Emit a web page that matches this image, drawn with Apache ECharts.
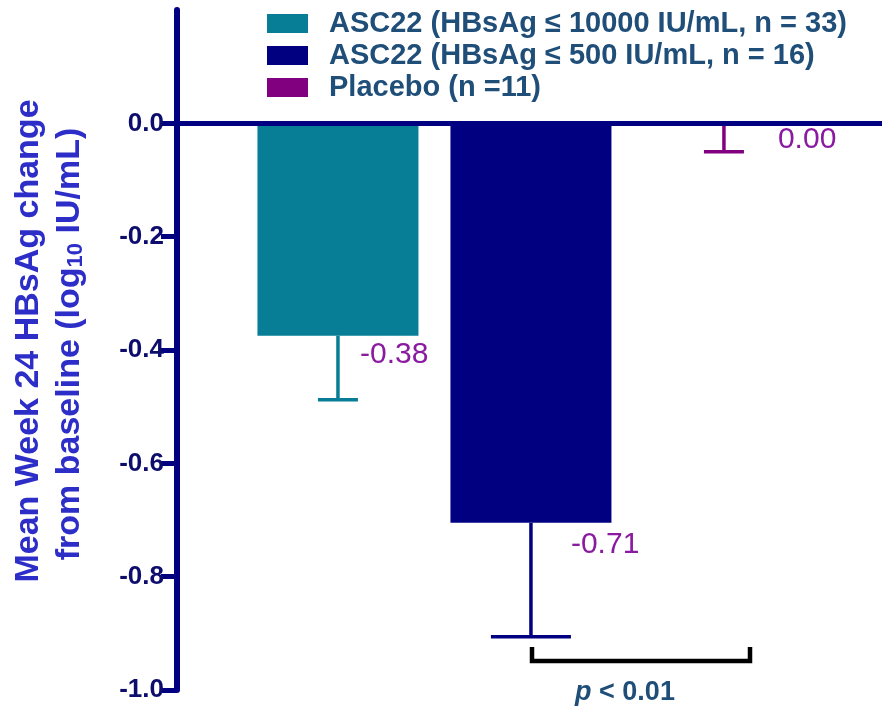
<!DOCTYPE html>
<html>
<head>
<meta charset="utf-8">
<script src="https://cdn.jsdelivr.net/npm/echarts@6/dist/echarts.min.js"></script>
<style>
  html, body { margin: 0; padding: 0; background: #fff; }
  #chart { width: 882px; height: 709px; }
</style>
</head>
<body>
<div id="chart"></div>
<script>
// data
const groups = ['ASC22 (HBsAg ≤ 10000 IU/mL, n = 33)', 'ASC22 (HBsAg ≤ 500 IU/mL, n = 16)', 'Placebo (n =11)'];
const groupPos = [1, 2, 3];
const means = [-0.375, -0.705, 0.0];
const lowerErr = [-0.488, -0.906, -0.05];
const valueLabels = ['-0.38', '-0.71', '0.00'];
const yTicks = [-1.0, -0.8, -0.6, -0.4, -0.2, 0.0];
const pText = '{i|p} < 0.01';

// styling
const FONT = '"Liberation Sans", Arial, Helvetica, sans-serif';
const colors = ['#077d96', '#000080', '#800080'];
const capWidths = [40, 80, 40];
const labelOffsets = [[22, 19], [40, 22], [54, 16]];
const axisColor = '#000080';
const labelColor = '#8a1aa0';
const titleColor = '#2d2dc8';
const legendColor = '#1f4e79';

const chart = echarts.init(document.getElementById('chart'));

const barSeries = groups.map((name, i) => ({
  name: name,
  type: 'bar',
  barWidth: 161,
  barGap: '-100%',
  itemStyle: { color: colors[i] },
  data: [[groupPos[i], means[i]]],
  z: 2
}));

const errSeries = {
  type: 'custom',
  z: 3,
  encode: { x: 0, y: [1, 2] },
  data: groupPos.map((x, i) => [x, means[i], lowerErr[i]]),
  renderItem: (params, api) => {
    const i = params.dataIndex;
    const top = api.coord([api.value(0), api.value(1)]);
    const bot = api.coord([api.value(0), api.value(2)]);
    const half = capWidths[i] / 2;
    const st = { stroke: colors[i], lineWidth: 3.5 };
    return {
      type: 'group',
      children: [
        { type: 'line', shape: { x1: top[0], y1: top[1], x2: bot[0], y2: bot[1] }, style: st },
        { type: 'line', shape: { x1: bot[0] - half, y1: bot[1], x2: bot[0] + half, y2: bot[1] }, style: st },
        {
          type: 'text',
          x: top[0] + labelOffsets[i][0],
          y: top[1] + labelOffsets[i][1],
          style: {
            text: valueLabels[i], fill: labelColor, fontSize: 30, fontFamily: FONT,
            align: 'left', verticalAlign: 'middle'
          }
        }
      ]
    };
  }
};

chart.setOption({
  animation: false,
  grid: { left: 177, right: 0, top: 10, bottom: 19 },
  legend: {
    data: groups,
    orient: 'vertical',
    left: 267,
    top: 9,
    padding: 0,
    itemWidth: 41,
    itemHeight: 19,
    itemGap: 3,
    icon: 'rect',
    selectedMode: false,
    textStyle: {
      fontSize: 29, fontWeight: 'bold', color: legendColor, fontFamily: FONT,
      padding: [0, 0, 0, 16], lineHeight: 19
    }
  },
  xAxis: {
    type: 'value',
    min: 0.166,
    max: 3.819,
    z: 5,
    axisLine: { show: true, onZero: true, lineStyle: { color: axisColor, width: 5 } },
    axisTick: { show: false },
    axisLabel: { show: false },
    splitLine: { show: false }
  },
  yAxis: {
    type: 'value',
    min: -1,
    max: 0.2,
    interval: 0.2,
    z: 5,
    axisLine: { show: true, lineStyle: { color: axisColor, width: 6 } },
    axisTick: { show: true, length: 16, customValues: yTicks, lineStyle: { color: axisColor, width: 5 } },
    axisLabel: {
      customValues: yTicks,
      formatter: v => v.toFixed(1),
      margin: 13,
      fontSize: 26,
      fontWeight: 'bold',
      fontFamily: FONT,
      color: '#0d0d6e'
    },
    splitLine: { show: false }
  },
  graphic: [
    {
      type: 'text', x: 29, y: 341, rotation: Math.PI / 2,
      style: {
        text: 'Mean Week 24 HBsAg change', fill: titleColor,
        fontSize: 34, fontWeight: 'bold', fontFamily: FONT,
        align: 'center', verticalAlign: 'middle'
      }
    },
    {
      type: 'text', x: 70, y: 344, rotation: Math.PI / 2,
      style: {
        text: 'from baseline (log{sub|10} IU/mL)', fill: titleColor,
        fontSize: 34, fontWeight: 'bold', fontFamily: FONT, lineHeight: 34,
        align: 'center', verticalAlign: 'middle',
        rich: {
          sub: { fontSize: 22, fontWeight: 'bold', fontFamily: FONT, fill: titleColor, lineHeight: 14, verticalAlign: 'bottom' }
        }
      }
    },
    {
      type: 'polyline',
      shape: { points: [[532, 647], [532, 661], [750, 661], [750, 647]] },
      style: { stroke: '#000', lineWidth: 4.5, fill: null }
    },
    {
      type: 'text', x: 625, y: 693,
      style: {
        text: pText, fill: legendColor, fontSize: 27, fontWeight: 'bold', fontFamily: FONT,
        align: 'center', verticalAlign: 'middle',
        rich: {
          i: { fontSize: 27, fontWeight: 'bold', fontStyle: 'italic', fontFamily: FONT, fill: legendColor }
        }
      }
    }
  ],
  series: barSeries.concat([errSeries])
});
</script>
</body>
</html>
